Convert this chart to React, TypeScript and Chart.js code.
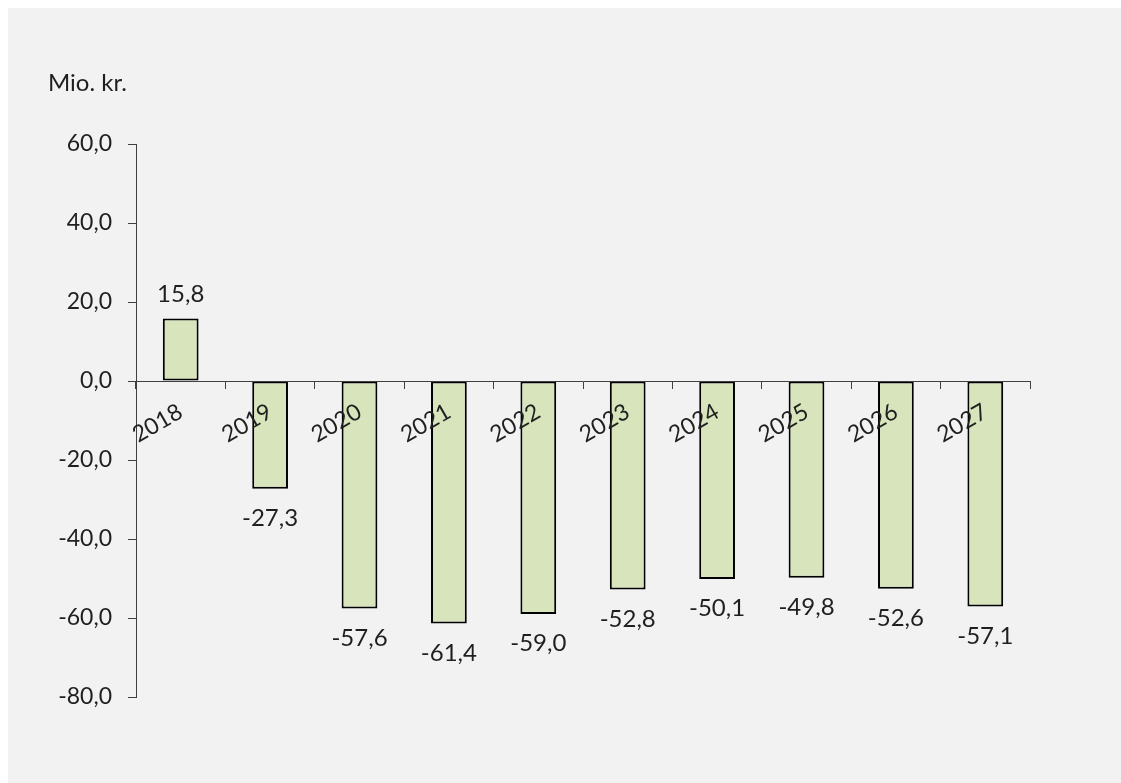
import React, { useEffect, useRef } from 'react';
import { Chart, registerables } from 'chart.js';

Chart.register(...registerables);

const categories = ['2018', '2019', '2020', '2021', '2022', '2023', '2024', '2025', '2026', '2027'];
const values = [15.8, -27.3, -57.6, -61.4, -59.0, -52.8, -50.1, -49.8, -52.6, -57.1];
const yMin = -80;
const yMax = 60;
const yStep = 20;
const unitLabel = 'Mio. kr.';

const FONT = 'Lato, "Noto Sans", sans-serif';
const TEXT = '#1f1f1f';
const AXIS = '#404040';

const fmt = (v: number) => v.toFixed(1).replace('.', ',');

const W = 1113;
const H = 775;

export default function App() {
  const ref = useRef<HTMLCanvasElement>(null);
  useEffect(() => {
    if (!ref.current) return;
    const bgPlugin = {
      id: 'bg',
      beforeDraw(chart: any) {
        const ctx = chart.ctx;
        ctx.save();
        ctx.fillStyle = '#f2f2f2';
        ctx.fillRect(0, 0, chart.width, chart.height);
        ctx.restore();
      },
    };
    const labelPlugin = {
      id: 'vals',
      afterDraw(chart: any) {
        const ctx = chart.ctx;
        ctx.save();
        ctx.font = `24px ${FONT}`;
        ctx.fillStyle = TEXT;
        ctx.textAlign = 'center';
        ctx.textBaseline = 'alphabetic';
        const meta = chart.getDatasetMeta(0);
        meta.data.forEach((bar: any, i: number) => {
          const v = values[i];
          const y = v >= 0 ? bar.y - 17 : bar.y + 37;
          ctx.fillText(fmt(v), bar.x, y);
        });
        ctx.textAlign = 'left';
        ctx.font = `24px ${FONT}`;
        ctx.fillText(unitLabel, 40, 83);
        ctx.restore();
      },
    };
    const chart = new Chart(ref.current, {
      type: 'bar',
      data: {
        labels: categories,
        datasets: [
          {
            data: values,
            backgroundColor: '#d8e4bc',
            borderColor: '#000000',
            borderWidth: 2,
            borderSkipped: false,
            categoryPercentage: 1,
            barPercentage: 0.4,
          },
        ],
      },
      options: {
        responsive: false,
        animation: false,
        devicePixelRatio: 1,
        layout: { padding: { left: 0, right: 91, top: 136, bottom: 86 } },
        plugins: { legend: { display: false }, tooltip: { enabled: false } },
        scales: {
          x: {
            type: 'category',
            position: { y: 0 } as any,
            grid: { offset: true, drawOnChartArea: false, drawTicks: true, tickLength: 7, color: AXIS, lineWidth: 1, z: 1 },
            border: { display: true, color: AXIS, width: 1, z: 1 },
            ticks: { z: 2, minRotation: 30, maxRotation: 30, autoSkip: false, font: { family: FONT, size: 23 }, color: TEXT, padding: 10 },
          },
          y: {
            min: yMin,
            max: yMax,
            grid: { drawOnChartArea: false, drawTicks: true, tickLength: 8, color: AXIS, lineWidth: 1 },
            border: { display: true, color: AXIS, width: 1 },
            ticks: { stepSize: yStep, callback: (v: any) => fmt(Number(v)), font: { family: FONT, size: 23 }, color: TEXT, padding: 16 },
            afterFit: (s: any) => {
              s.width = 128;
            },
          },
        },
      },
      plugins: [bgPlugin, labelPlugin],
    });
    return () => chart.destroy();
  }, []);
  return (
    <div style={{ position: 'fixed', left: 8, top: 8, width: W, height: H }}>
      <canvas ref={ref} width={W} height={H} style={{ display: 'block', width: W, height: H }} />
    </div>
  );
}
